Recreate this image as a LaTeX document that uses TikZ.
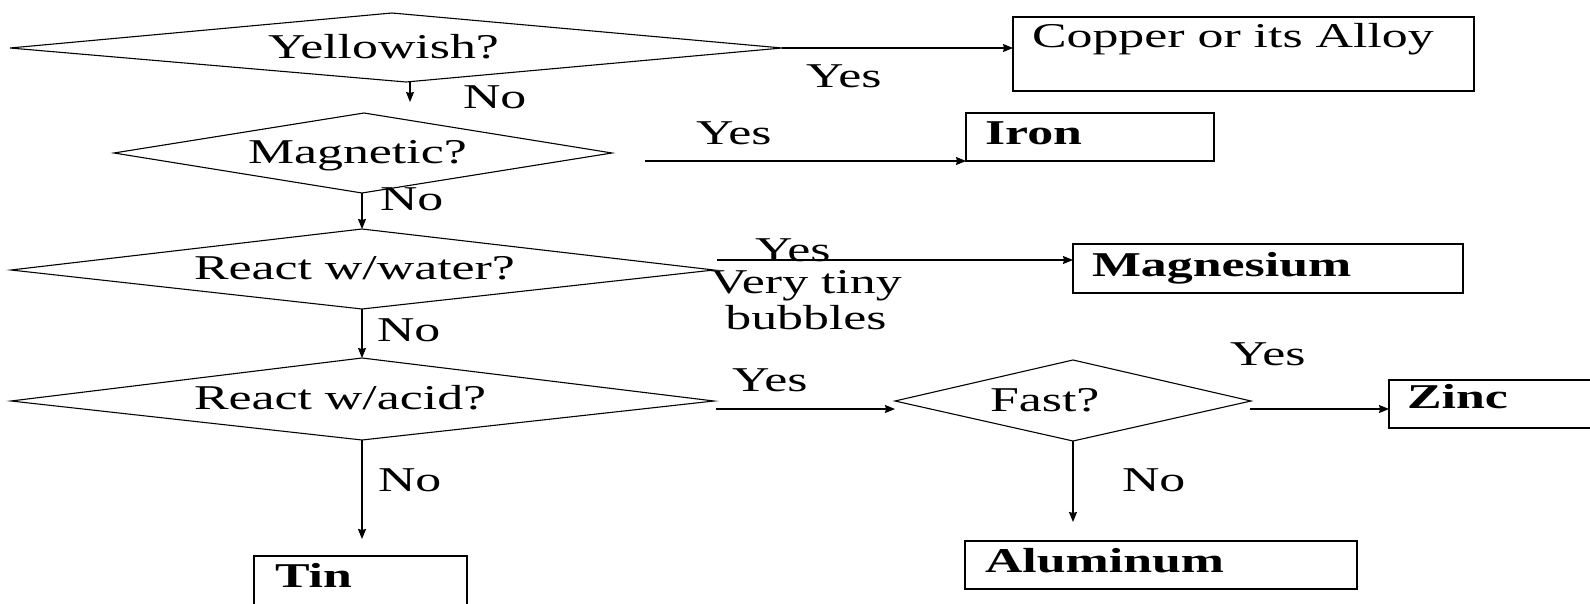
\documentclass[tikz,border=0pt]{standalone}
\usepackage{fontspec}
\setmainfont{Liberation Serif}[FakeStretch=1.49]
\usetikzlibrary{arrows.meta}
% fixed-width, left-aligned box contents
\newcommand{\leftfill}[2]{\makebox[#1pt][l]{#2}}
\begin{document}
\begin{tikzpicture}[x=1pt,y=-1pt,
  every node/.style={font=\fontsize{34.8}{35}\selectfont, inner sep=0pt, outer sep=0pt},
  txt/.style={anchor=base west},
  decision/.style={draw, line width=1.1pt, line join=miter},
  result/.style={draw, rectangle, line width=1.4pt, anchor=north west, inner ysep=0pt,
    font=\fontsize{34.8}{35}\selectfont\bfseries},
  arr/.style={draw, line width=1.3pt, -{Stealth[length=10pt,width=8pt,inset=1pt]}}]
\useasboundingbox (0,0) rectangle (1590,604);
\clip (0,0) rectangle (1590,604);
\fill[white] (0,0) rectangle (1590,604);

% decision diamonds
\coordinate (yelW) at (10,48);   \coordinate (yelN) at (392,13);
\coordinate (yelE) at (782,48);  \coordinate (yelS) at (406,82);
\coordinate (magW) at (114,153); \coordinate (magN) at (364,113);
\coordinate (magE) at (612,153); \coordinate (magS) at (362,193);
\coordinate (watW) at (11,270);  \coordinate (watN) at (362,229);
\coordinate (watE) at (714,270); \coordinate (watS) at (362,309);
\coordinate (aciW) at (11,401);  \coordinate (aciN) at (362,358);
\coordinate (aciE) at (714,401); \coordinate (aciS) at (362,440);
\coordinate (fasW) at (895,401); \coordinate (fasN) at (1073,360);
\coordinate (fasE) at (1251,401);\coordinate (fasS) at (1073,441);

\draw[decision] (yelW) -- (yelN) -- (yelE) -- (yelS) -- cycle;
\draw[decision] (magW) -- (magN) -- (magE) -- (magS) -- cycle;
\draw[decision] (watW) -- (watN) -- (watE) -- (watS) -- cycle;
\draw[decision] (aciW) -- (aciN) -- (aciE) -- (aciS) -- cycle;
\draw[decision] (fasW) -- (fasN) -- (fasE) -- (fasS) -- cycle;

\node[txt] (qYel) at (268,59)  {Yellowish?};
\node[txt] (qMag) at (248,164) {Magnetic?};
\node[txt] (qWat) at (194,279) {React w/water?};
\node[txt] (qAci) at (194,409) {React w/acid?};
\node[txt] (qFas) at (990,411) {Fast?};

% outcome boxes
\node[result, inner xsep=19pt, text height=31pt, text depth=43pt] (cop) at (1013,17)
  {\leftfill{423}{\mdseries Copper or its Alloy}};
\node[result, inner xsep=19pt, text height=32pt, text depth=16pt] (iro) at (966,113)
  {\leftfill{210}{Iron}};
\node[result, inner xsep=19pt, text height=32pt, text depth=17pt] (mgn) at (1073,244)
  {\leftfill{352}{Magnesium}};
\node[result, inner xsep=18pt, text height=28pt, text depth=20pt] (zin) at (1389,380)
  {\leftfill{185}{Zinc}};
\node[result, inner xsep=20pt, text height=31pt, text depth=17pt] (alu) at (965,541)
  {\leftfill{352}{Aluminum}};
\node[result, inner xsep=21pt, text height=31pt, text depth=33pt] (tin) at (254,556)
  {\leftfill{171}{Tin}};

% connector end points
\coordinate (yelNoEnd) at (410,102);
\coordinate (magYesStart) at (645,161);
\coordinate (watYesStart) at (717,260);
\coordinate (aciYesStart) at (716,409);
\coordinate (aciNoEnd) at (362,539);
\coordinate (fasYesStart) at (1250,409);
\coordinate (fasNoEnd) at (1073,522);

% connectors
\draw[arr] (yelE) -- (yelE -| cop.west);
\draw[arr] (yelNoEnd |- yelS) -- (yelNoEnd);
\draw[arr] (magYesStart) -- (iro.south west);
\draw[arr] (magS) -- (watN);
\draw[arr] (watYesStart) -- (watYesStart -| mgn.west);
\draw[arr] (watS) -- (aciN);
\draw[arr] (aciYesStart) -- (aciYesStart -| fasW);
\draw[arr] (aciS) -- (aciNoEnd);
\draw[arr] (fasYesStart) -- (fasYesStart -| zin.west);
\draw[arr] (fasS) -- (fasNoEnd);

% branch labels
\node[txt] (lYel) at (806,88)  {Yes};
\node[txt] (lYelNo) at (463,109) {No};
\node[txt] (lMag) at (696,145) {Yes};
\node[txt] (lMagNo) at (380,211) {No};
\node[txt] (lWat) at (755,261) {Yes};
\node[align=center, anchor=north] (lBub) at (806,270)
  {Very tiny\\[1pt]bubbles};
\node[txt] (lWatNo) at (377,341) {No};
\node[txt] (lAci) at (732,391) {Yes};
\node[txt] (lAciNo) at (378,491) {No};
\node[txt] (lFas) at (1230,365) {Yes};
\node[txt] (lFasNo) at (1122,491) {No};
\end{tikzpicture}
\end{document}
